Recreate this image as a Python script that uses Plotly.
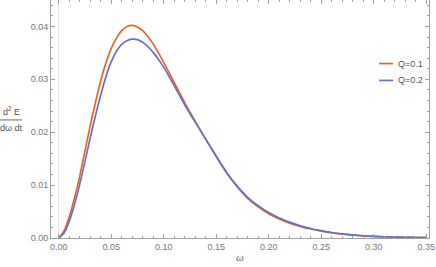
import plotly.graph_objects as go

omega = [0.000, 0.005, 0.010, 0.015, 0.020, 0.025, 0.030, 0.035, 0.040, 0.045,
         0.050, 0.055, 0.060, 0.065, 0.070, 0.075, 0.080, 0.085, 0.090, 0.095,
         0.100, 0.105, 0.110, 0.120, 0.130, 0.140, 0.150, 0.160, 0.170, 0.180,
         0.190, 0.200, 0.210, 0.220, 0.230, 0.240, 0.250, 0.260, 0.270, 0.280,
         0.290, 0.300, 0.310, 0.320, 0.330, 0.340, 0.350]

q01 = [0.0000, 0.0013, 0.0039, 0.0075, 0.0116, 0.0164, 0.0212, 0.0256, 0.0297, 0.0331,
       0.0358, 0.0378, 0.0392, 0.0400, 0.0402, 0.0399, 0.0392, 0.0381, 0.0367, 0.0350,
       0.0332, 0.0313, 0.0294, 0.0256, 0.0221, 0.0187, 0.0154, 0.0123, 0.0097, 0.0075,
       0.0059, 0.0046, 0.0036, 0.0028, 0.0022, 0.0017, 0.0013, 0.00097, 0.00073, 0.00054,
       0.00040, 0.00030, 0.00022, 0.00016, 0.00012, 0.00009, 0.00006]

q02 = [0.0000, 0.0009, 0.0031, 0.0063, 0.0101, 0.0144, 0.0189, 0.0231, 0.0270, 0.0305,
       0.0333, 0.0353, 0.0366, 0.0373, 0.0376, 0.0375, 0.0370, 0.0362, 0.0351, 0.0338,
       0.0323, 0.0306, 0.0288, 0.0252, 0.0219, 0.0187, 0.0155, 0.0124, 0.0098, 0.0077,
       0.0061, 0.0048, 0.0038, 0.0030, 0.0023, 0.0018, 0.0014, 0.00104, 0.00078, 0.00058,
       0.00043, 0.00032, 0.00024, 0.00018, 0.00013, 0.00010, 0.00007]

series_names = ["Q=0.1", "Q=0.2"]
series_colors = ["#EC6220", "#6373C6"]

x_ticks = [0.00, 0.05, 0.10, 0.15, 0.20, 0.25, 0.30, 0.35]
y_ticks = [0.00, 0.01, 0.02, 0.03, 0.04]

fig = go.Figure()
for name, vals, col in zip(series_names, [q01, q02], series_colors):
    fig.add_trace(go.Scatter(x=omega, y=vals, mode="lines", name=name,
                             line=dict(color=col, width=1.7, shape="spline", smoothing=0.6),
                             showlegend=False, hoverinfo="skip"))

axis_common = dict(showline=True, linecolor="#a0a0a0", linewidth=1, mirror="ticks",
                   ticks="inside", tickcolor="#a0a0a0", ticklen=4, showgrid=False,
                   tickfont=dict(family="Liberation Sans, Arial, sans-serif", size=9, color="#777777"),
                   tickformat=".2f")

fig.update_xaxes(range=[-0.0073, 0.3527], tickvals=x_ticks, zeroline=True,
                 zerolinecolor="#e4e4e4", zerolinewidth=1,
                 minor=dict(ticks="inside", ticklen=2, dtick=0.01, tick0=0, tickcolor="#a0a0a0"),
                 **axis_common)
fig.update_yaxes(range=[0, 0.045], tickvals=y_ticks, zeroline=False,
                 minor=dict(ticks="inside", ticklen=2, dtick=0.002, tick0=0, tickcolor="#a0a0a0"),
                 **axis_common)

lab_font = dict(family="Liberation Sans, Arial, sans-serif", size=9, color="#555555")
annotations = [
    dict(text="<i>ω</i>", xref="paper", yref="paper", x=0.5, y=-0.078, showarrow=False,
         font=dict(family="Liberation Serif, serif", size=11, color="#666666"), yanchor="middle"),
    dict(text="d<sup>2</sup> E", xref="paper", x=-0.105, xanchor="center", yref="paper", y=0.535,
         yanchor="middle", showarrow=False, font=lab_font),
    dict(text="dω dt", xref="paper", x=-0.105, xanchor="center", yref="paper", y=0.462,
         yanchor="middle", showarrow=False, font=lab_font),
]
shapes = [dict(type="line", xref="paper", yref="paper", x0=-0.135, x1=-0.077, y0=0.496, y1=0.496,
               line=dict(color="#666666", width=1))]

# manual legend
leg_y = [0.733, 0.662]
for name, col, ly in zip(series_names, series_colors, leg_y):
    shapes.append(dict(type="line", xref="paper", yref="paper", x0=0.868, x1=0.905,
                       y0=ly, y1=ly, line=dict(color=col, width=1.7)))
    annotations.append(dict(text=name, xref="paper", yref="paper", x=0.912, y=ly,
                            xanchor="left", yanchor="middle", showarrow=False, font=lab_font))

fig.update_layout(width=436, height=267, margin=dict(l=51, r=7, t=0, b=29),
                  paper_bgcolor="white", plot_bgcolor="white",
                  annotations=annotations, shapes=shapes)

fig.write_html("out.html", config={"displayModeBar": False},
               post_script="document.body.style.margin='0';document.body.style.overflow='hidden';")
